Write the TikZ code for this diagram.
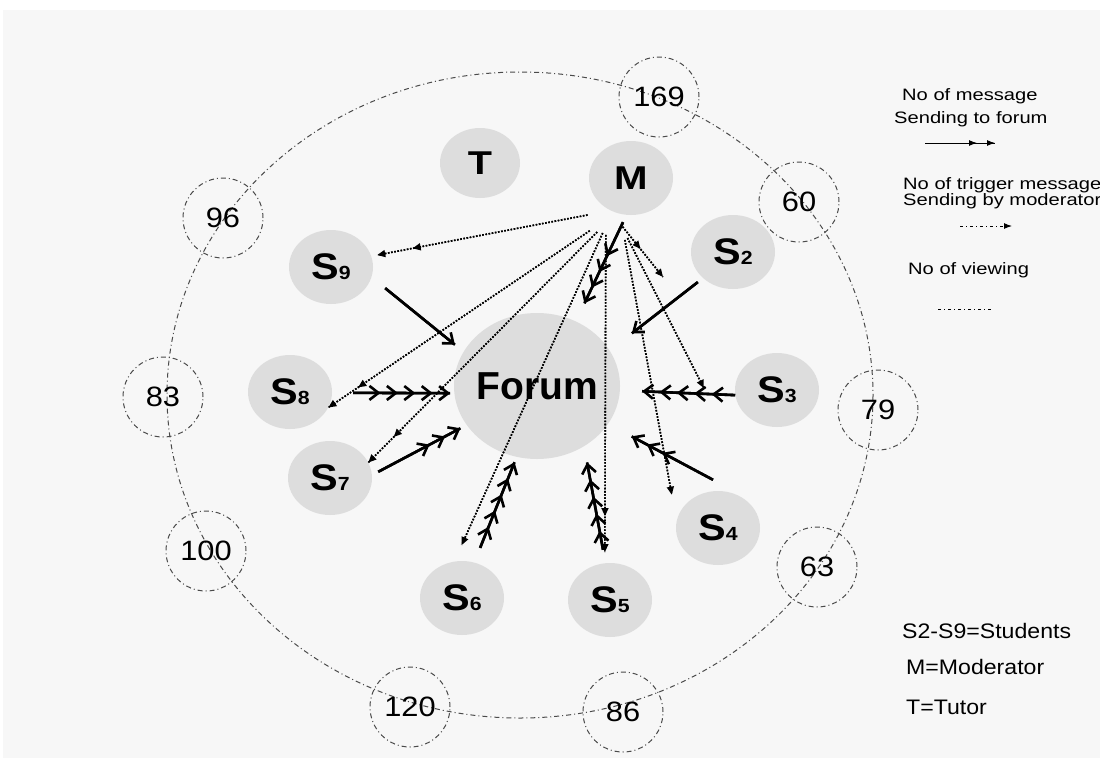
\documentclass[tikz,border=0pt]{standalone}
\usepackage{fontspec}
\setmainfont{Liberation Sans}
\usetikzlibrary{shapes.geometric,arrows.meta}

\definecolor{bggray}{HTML}{F7F7F7}
\definecolor{nodegray}{HTML}{DDDDDD}
\definecolor{ringgray}{HTML}{4A4A4A}

\newcommand\idx[1]{{\fontsize{19}{19}\selectfont #1}}
\newcommand\wide[2][1.1]{\scalebox{#1}[1]{#2}}

\tikzset{
  person/.style={ellipse, fill=nodegray, minimum width=84pt, minimum height=74pt, inner sep=0pt, font=\bfseries\fontsize{37}{37}\selectfont},
  tally/.style={circle, draw=ringgray, line width=1pt, dash pattern=on 5pt off 3pt on 1pt off 3pt, minimum size=80pt, inner sep=0pt, font=\fontsize{28}{28}\selectfont},
  ring/.style={draw=ringgray, line width=1pt, dash pattern=on 5pt off 3pt on 1pt off 3pt},
  msg/.tip={Straight Barb[length=9pt,width=14pt]},
  msgs/.tip={Straight Barb[length=9pt,width=14pt,sep=5pt]},
  trg/.tip={Triangle[length=8pt,width=7pt]},
  trgs/.tip={Triangle[length=8pt,width=7pt,sep=28pt]},
  sendline/.style={line width=2.6pt, postaction={draw,-}},
  trigline/.style={line width=1.6pt, dash pattern=on 1.6pt off 1.6pt, postaction={draw,-}},
  keytext/.style={anchor=base west, inner sep=0pt, font=\fontsize{16.5}{16.5}\selectfont},
  roletext/.style={anchor=base west, inner sep=0pt, font=\fontsize{21}{21}\selectfont},
}

\begin{document}
\begin{tikzpicture}[x=1pt,y=-1pt]

% Background and page size
\useasboundingbox (0,0) rectangle (1100,758);
\fill[bggray] (3,10) rectangle (1100,758);

% Outer ring and the viewing counts
\draw[ring] (520,395) ellipse [x radius=353, y radius=323];
\node[tally] (v169) at (659,97) {\wide{169}};
\node[tally] (v60) at (799,202) {\wide{60}};
\node[tally] (v79) at (878,410) {\wide{79}};
\node[tally] (v63) at (817,567) {\wide{63}};
\node[tally] (v86) at (623,712) {\wide{86}};
\node[tally] (v120) at (410,707) {\wide{120}};
\node[tally] (v100) at (206,551) {\wide{100}};
\node[tally] (v83) at (163,397) {\wide{83}};
\node[tally] (v96) at (223,218) {\wide{96}};

% Forum, tutor, moderator and students
\node[person, minimum width=166pt, minimum height=146pt, font=\bfseries\fontsize{39}{39}\selectfont] (Forum) at (537,386) {\makebox[0pt]{Forum}};
\node[person, minimum width=80pt, minimum height=70pt, font=\bfseries\fontsize{33}{33}\selectfont] (T) at (480,163) {\wide[1.2]{T}};
\node[person, font=\bfseries\fontsize{33}{33}\selectfont] (M) at (631,178) {\wide[1.22]{M}};
\node[person] (S2) at (733,252) {\wide[1.12]{S\idx{2}}};
\node[person] (S3) at (777,390) {\wide[1.12]{S\idx{3}}};
\node[person] (S4) at (718,528) {\wide[1.12]{S\idx{4}}};
\node[person] (S5) at (610,600) {\wide[1.12]{S\idx{5}}};
\node[person] (S6) at (462,598) {\wide[1.12]{S\idx{6}}};
\node[person] (S7) at (330,478) {\wide[1.12]{S\idx{7}}};
\node[person] (S8) at (290,392) {\wide[1.12]{S\idx{8}}};
\node[person] (S9) at (331,267) {\wide[1.12]{S\idx{9}}};

% Messages sent to the forum
\draw[sendline, -{msg[]}, shorten <=17.5pt, shorten >=11pt] (S9.-14) -- (Forum.155);
\draw[sendline, -{msg[]}, shorten <=6.5pt, shorten >=28pt] (S2.221) -- (Forum.26);
\draw[sendline, -{msgs[]msgs[]msgs[]msgs[]msg[]}, shorten <=21pt, shorten >=4pt] (S8.-1) -- (Forum.185);
\draw[sendline, -{msgs[]msgs[]msgs[]msgs[]msg[]}, shorten >=22pt] (S3.187) -- (Forum.-3);
\draw[sendline, -{msgs[]msgs[]msg[]}, shorten <=7pt, shorten >=7pt] (S7.4) -- (Forum.209);
\draw[sendline, -{msgs[]msgs[]msg[]}, shorten >=26.6pt] ([xshift=-5pt,yshift=11pt]S4.north) -- (Forum.-28);
\draw[sendline, -{msgs[]msgs[]msgs[]msgs[]msg[]}, shorten <=15.7pt, shorten >=5.6pt] (S6.71) -- (Forum.254);
\draw[sendline, -{msgs[]msgs[]msgs[]msgs[]msg[]}, shorten <=13.4pt, shorten >=16.3pt] (S5.97) -- (Forum.-52);
\draw[sendline, -{msgs[]msgs[]msgs[]msg[]}, shorten <=8pt, shorten >=19.8pt] (M.263) -- (Forum.59);

% Trigger messages from the moderator
\coordinate (m2) at ([xshift=-70pt,yshift=-25pt]S2.center);
\coordinate (m3) at ([xshift=-31pt,yshift=2pt]S3.west);
\draw[trigline, -{trgs[]trg[]}, shorten <=23.5pt, shorten >=6pt] (M.238) -- (S9.15);
\draw[trigline, -{trgs[]trg[]}, shorten <=32pt] (M.247) -- (S8.-22);
\draw[trigline, -{trgs[]trg[]}, shorten <=27pt] (M.247) -- (S7.22);
\draw[trigline, -{trg[]}, shorten <=23.7pt, shorten >=18pt] (M.241) -- (S6.102);
\draw[trigline, -{trgs[]trg[]}, shorten <=27pt, shorten >=11pt] (M.230) -- (S5.98);
\draw[trigline, -{trg[]}, shorten <=26.5pt, shorten >=26.5pt] (M.253) -- (S4.170);
\draw[trigline, -{trg[]}, shorten <=29pt] (M.244) -- (m3);
\draw[trigline, -{trgs[]trg[]}, shorten <=22pt] (M.235) -- (m2);

% Legend
\node[keytext] (k1a) at (902,100) {\wide[1.22]{No of message}};
\node[keytext] (k1b) at (894,123) {\wide[1.22]{Sending to forum}};
\node[keytext] (k2a) at (903,189) {\wide[1.22]{No of trigger message}};
\node[keytext] (k2b) at (903,205) {\wide[1.22]{Sending by moderator}};
\node[keytext] (k3) at (908,274) {\wide[1.22]{No of viewing}};
\coordinate (k1s) at (925,143); \coordinate (k1e) at (995,143);
\coordinate (k2s) at (960,226); \coordinate (k2e) at (1012,226);
\coordinate (k3s) at (938,309); \coordinate (k3e) at (993,309);
\draw[line width=1pt, -{Latex[length=8pt,width=6pt,sep=10pt] Latex[length=8pt,width=6pt]}, postaction={draw,-}] (k1s) -- (k1e);
\draw[ring, draw=black, dash pattern=on 3pt off 3pt on 1pt off 3pt, -{Latex[length=8pt,width=6pt]}] (k2s) -- (k2e);
\draw[ring, draw=black, dash pattern=on 3pt off 3pt on 1pt off 3pt] (k3s) -- (k3e);

\node[roletext] (r1) at (902,638) {\wide{S2-S9=Students}};
\node[roletext] (r2) at (906,674) {\wide{M=Moderator}};
\node[roletext] (r3) at (906,714) {\wide{T=Tutor}};

\end{tikzpicture}
\end{document}
